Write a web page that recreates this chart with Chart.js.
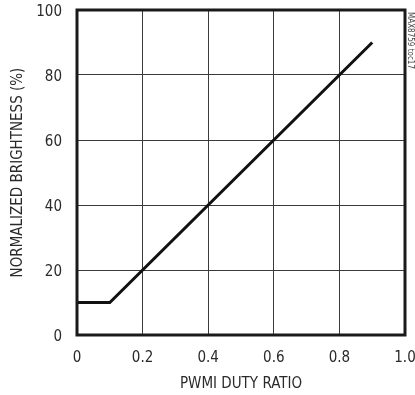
<!DOCTYPE html>
<html>
<head>
<meta charset="utf-8">
<script src="https://cdn.jsdelivr.net/npm/chart.js@4"></script>
<style>
  html, body { margin: 0; padding: 0; background: #fff; }
  canvas { display: block; }
</style>
</head>
<body>
<canvas id="chart" width="415" height="395"></canvas>
<script>
const dutyRatio = [0, 0.1, 0.9];
const brightness = [10, 10, 90];
const xTicks = [0, 0.2, 0.4, 0.6, 0.8, 1.0];
const yTicks = [0, 20, 40, 60, 80, 100];
const xTitle = 'PWMI DUTY RATIO';
const yTitle = 'NORMALIZED BRIGHTNESS (%)';
const figureTag = 'MAX8759 toc17';

const FONT = '"Liberation Sans Narrow", "DejaVu Sans Condensed", "Arial Narrow", sans-serif';

const frame = {
    id: 'frame',
    afterDatasetsDraw(chart) {
        const { ctx, chartArea: a } = chart;
        ctx.save();
        ctx.strokeStyle = '#1a1a1a';
        ctx.lineWidth = 3;
        ctx.strokeRect(a.left, a.top, a.right - a.left, a.bottom - a.top);
        ctx.translate(a.right + 5, a.top + 2);
        ctx.rotate(Math.PI / 2);
        ctx.fillStyle = '#444';
        ctx.font = '8px ' + FONT;
        ctx.textBaseline = 'middle';
        ctx.fillText(figureTag, 0, 0);
        ctx.restore();
    }
};

new Chart(document.getElementById('chart').getContext('2d'), {
    type: 'scatter',
    data: {
        datasets: [{
            data: dutyRatio.map((x, i) => ({ x: x, y: brightness[i] })),
            showLine: true,
            borderColor: '#111',
            borderWidth: 3,
            pointRadius: 0,
            tension: 0
        }]
    },
    options: {
        responsive: false,
        animation: false,
        layout: { padding: { top: 10, right: 10, left: 0, bottom: 0 } },
        plugins: { legend: { display: false }, tooltip: { enabled: false } },
        scales: {
            x: {
                type: 'linear',
                min: 0,
                max: 1,
                afterBuildTicks: axis => { axis.ticks = xTicks.map(v => ({ value: v })); },
                afterFit: axis => { axis.height = 60; axis.paddingLeft = 0; axis.paddingRight = 0; },
                grid: { color: '#3a3a3a', lineWidth: 1, drawTicks: false },
                border: { display: false },
                ticks: {
                    padding: 14,
                    color: '#2a2a2a',
                    font: { family: FONT, size: 15 },
                    callback: v => v === 0 ? '0' : v.toFixed(1)
                },
                title: {
                    display: true,
                    text: xTitle,
                    color: '#2a2a2a',
                    font: { family: FONT, size: 15 },
                    padding: { top: 0, bottom: 2 }
                }
            },
            y: {
                min: 0,
                max: 100,
                afterBuildTicks: axis => { axis.ticks = yTicks.map(v => ({ value: v })); },
                afterFit: axis => { axis.width = 77; axis.paddingTop = 0; axis.paddingBottom = 0; },
                grid: { color: '#3a3a3a', lineWidth: 1, drawTicks: false },
                border: { display: false },
                ticks: {
                    padding: 15,
                    labelOffset: 2,
                    color: '#2a2a2a',
                    font: { family: FONT, size: 15 }
                },
                title: {
                    display: true,
                    text: yTitle,
                    color: '#2a2a2a',
                    font: { family: FONT, size: 15 },
                    padding: { top: 9, bottom: 0 }
                }
            }
        }
    },
    plugins: [frame]
});
</script>
</body>
</html>
